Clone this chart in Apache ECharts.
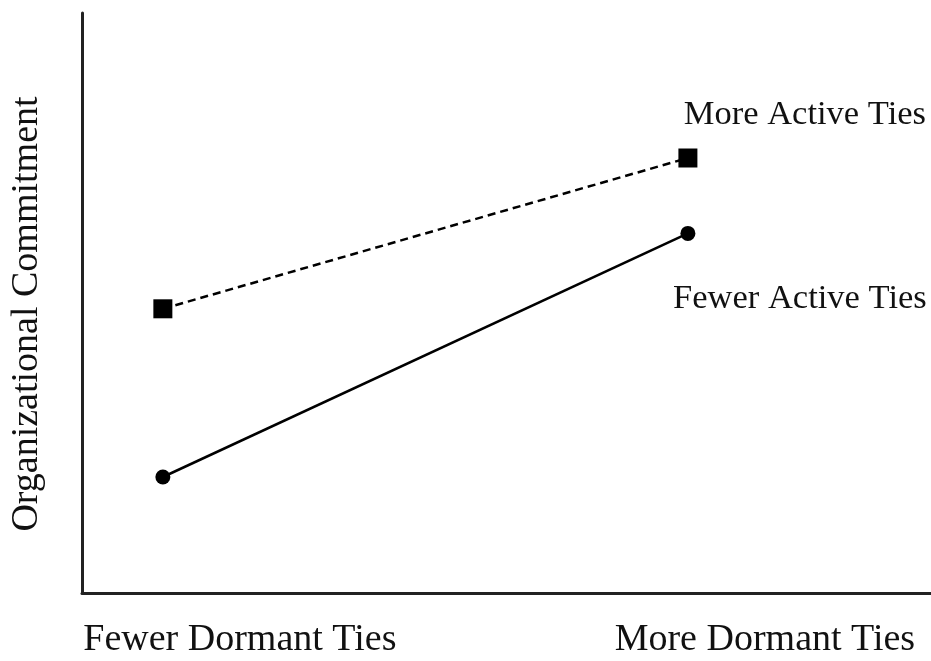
<!DOCTYPE html>
<html>
<head>
<meta charset="utf-8">
<script src="https://cdn.jsdelivr.net/npm/echarts@6/dist/echarts.min.js"></script>
<style>
  html, body { margin: 0; padding: 0; background: #fff; }
  #chart { width: 931px; height: 661px; }
</style>
</head>
<body>
<div id="chart"></div>
<script>
// x levels: 0 = fewer dormant ties, 1 = more dormant ties
var dormantLevels = [0, 1];
var dormantLabels = ["Fewer Dormant Ties", "More Dormant Ties"];
var moreActive = [4.9, 7.5];   // dashed line
var fewerActive = [2.0, 6.2];  // solid line
var seriesNames = ["More Active Ties", "Fewer Active Ties"];

var font = "Liberation Serif";
var chart = echarts.init(document.getElementById("chart"));

function pairs(vals) {
  return vals.map(function (v, i) { return [dormantLevels[i], v]; });
}

var option = {
  backgroundColor: "#fff",
  animation: false,
  grid: { left: 82, right: 0, top: 13, bottom: 68, outerBoundsMode: "none" },
  xAxis: {
    type: "value",
    min: -0.154,
    max: 1.463,
    splitLine: { show: false },
    axisTick: { show: false },
    axisLine: { show: true, onZero: false, lineStyle: { color: "#222", width: 3 } },
    axisLabel: {
      customValues: dormantLevels,
      formatter: function (v) { return dormantLabels[dormantLevels.indexOf(v)] || ""; },
      fontFamily: font,
      fontSize: 38,
      color: "#111",
      margin: 28,
      padding: [0, 0, 0, 154]
    }
  },
  yAxis: {
    type: "value",
    min: 0,
    max: 10,
    name: "Organizational Commitment",
    nameLocation: "middle",
    nameRotate: 90,
    nameGap: 36,
    nameTextStyle: { fontFamily: font, fontSize: 38, color: "#111", padding: [0, 22, 0, 0] },
    splitLine: { show: false },
    axisTick: { show: false },
    axisLabel: { show: false },
    axisLine: { show: true, onZero: false, lineStyle: { color: "#222", width: 3 } }
  },
  series: [
    {
      name: seriesNames[0],
      type: "line",
      data: pairs(moreActive),
      symbol: "rect",
      symbolSize: 19,
      itemStyle: { color: "#000" },
      lineStyle: { color: "#000", width: 2.5, type: [8, 5] },
      label: {
        show: true,
        position: "inside",
        offset: [117, -43],
        fontFamily: font,
        fontSize: 34.5,
        color: "#111",
        formatter: function (p) { return p.dataIndex === 1 ? p.seriesName : ""; }
      }
    },
    {
      name: seriesNames[1],
      type: "line",
      data: pairs(fewerActive),
      symbol: "circle",
      symbolSize: 15,
      itemStyle: { color: "#000" },
      lineStyle: { color: "#000", width: 2.5 },
      label: {
        show: true,
        position: "inside",
        offset: [112, 66],
        fontFamily: font,
        fontSize: 34.5,
        color: "#111",
        formatter: function (p) { return p.dataIndex === 1 ? p.seriesName : ""; }
      }
    }
  ]
};
chart.setOption(option);
</script>
</body>
</html>
